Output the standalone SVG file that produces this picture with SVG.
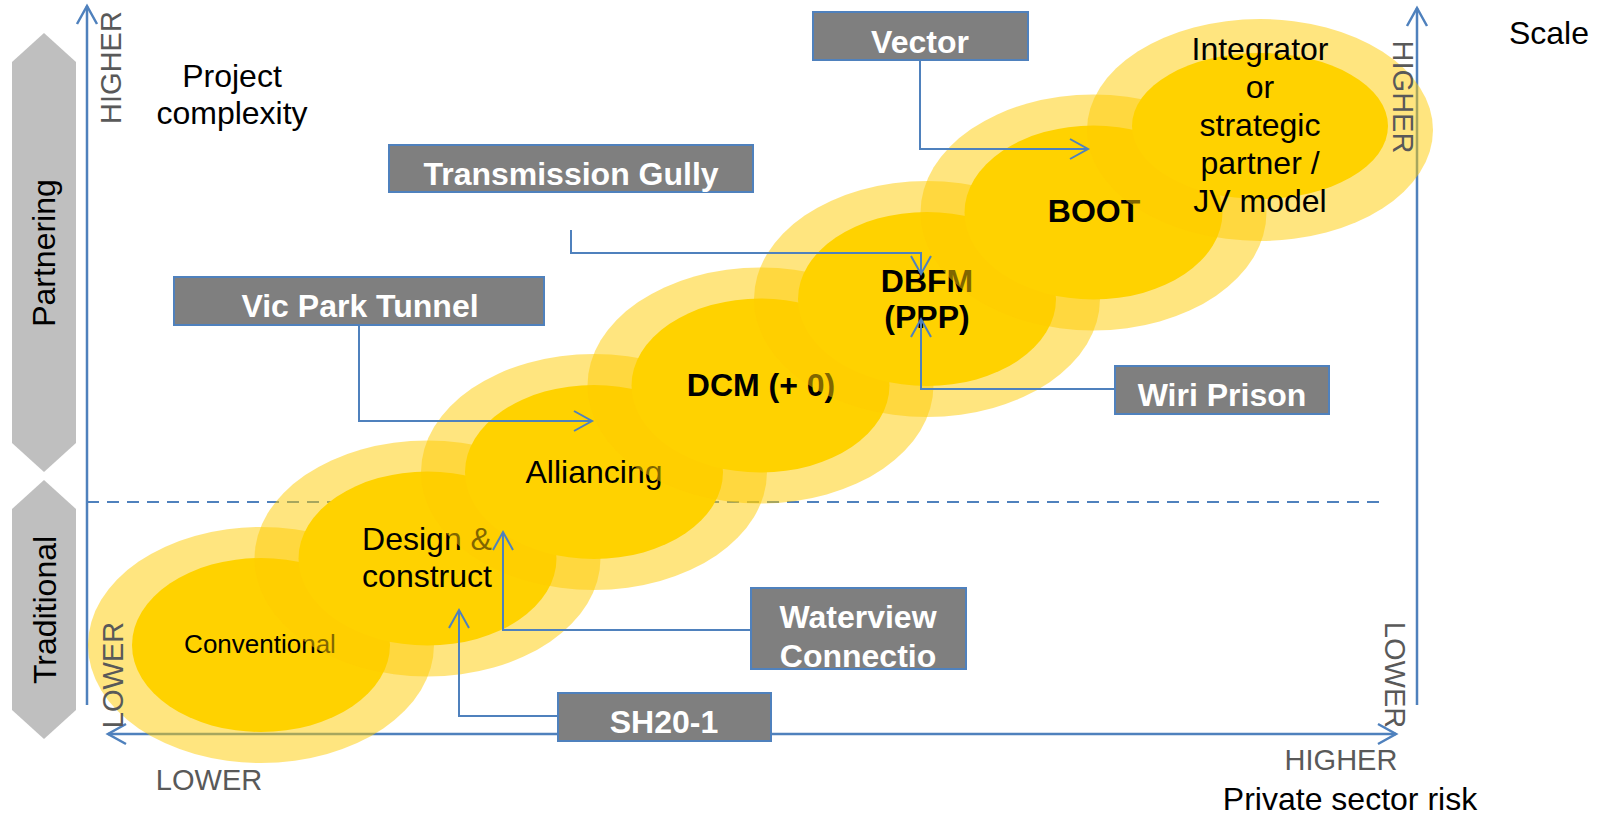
<svg xmlns="http://www.w3.org/2000/svg" width="1602" height="814" viewBox="0 0 1602 814">
<defs>
<style>
.t{font-family:"Liberation Sans",Arial,sans-serif;}
.lbl{font-size:32px;fill:#000;}
.ax{font-size:29px;fill:#595959;}
.node{font-size:32px;fill:#000;text-anchor:middle;}
.b{font-weight:bold;}
.box rect{fill:#7F7F7F;stroke:#4F81BD;stroke-width:2;}
.box text{font-size:32px;font-weight:bold;fill:#fff;text-anchor:middle;}
.outer{fill:#FFCC00;fill-opacity:0.5;}
.inner{fill:#FFD200;}
.axis{fill:none;stroke:#4F81BD;stroke-width:2.5;}
.conn path{fill:none;stroke:#4F81BD;stroke-width:2;}
.hex{fill:#BFBFBF;}
</style>
<marker id="arr" viewBox="-20 -12 24 24" markerWidth="24" markerHeight="24" refX="0" refY="0" orient="auto-start-reverse" markerUnits="userSpaceOnUse">
<path d="M-18,-10 L0,0 L-18,10" fill="none" stroke="#4F81BD" stroke-width="2.5"/>
</marker>
<marker id="arr2" viewBox="-20 -12 24 24" markerWidth="24" markerHeight="24" refX="0" refY="0" orient="auto" markerUnits="userSpaceOnUse">
<path d="M-18,-10 L0,0 L-18,10" fill="none" stroke="#4F81BD" stroke-width="2"/>
</marker>
</defs>
<rect width="1602" height="814" fill="#fff"/>

<!-- side bands -->
<g id="partnering">
<polygon class="hex" points="12,62 44,33 76,62 76,443 44,472 12,443"/>
<text class="t lbl" text-anchor="middle" transform="translate(55,253) rotate(-90)">Partnering</text>
</g>
<g id="traditional">
<polygon class="hex" points="12,509 44,480 76,509 76,710 44,739 12,710"/>
<text class="t lbl" text-anchor="middle" transform="translate(56,610) rotate(-90)">Traditional</text>
</g>

<!-- axes and divider -->
<g id="axes">
<path class="axis" d="M87,705 V6" marker-end="url(#arr)"/>
<path class="axis" d="M1417,705 V8" marker-end="url(#arr)"/>
<path class="axis" d="M108,734 H1396" marker-start="url(#arr)" marker-end="url(#arr)"/>
<path d="M87,502 H1381" fill="none" stroke="#4F81BD" stroke-width="2" stroke-dasharray="12,8"/>
</g>

<!-- ellipse chain -->
<g id="n-conventional">
<ellipse class="outer" cx="261" cy="645" rx="173" ry="118"/>
<ellipse class="inner" cx="261" cy="645" rx="129" ry="87"/>
<text class="t node" x="260" y="653" style="font-size:26px">Conventional</text>
</g>
<g id="n-design">
<ellipse class="outer" cx="427.5" cy="558.5" rx="173" ry="118"/>
<ellipse class="inner" cx="427.5" cy="558.5" rx="129" ry="87"/>
<text class="t node" x="427" y="550">Design &amp;</text>
<text class="t node" x="427" y="587">construct</text>
</g>
<g id="n-alliancing">
<ellipse class="outer" cx="594" cy="472" rx="173" ry="118"/>
<ellipse class="inner" cx="594" cy="472" rx="129" ry="87"/>
<text class="t node" x="594" y="483">Alliancing</text>
</g>
<g id="n-dcm">
<ellipse class="outer" cx="760.5" cy="385.5" rx="173" ry="118"/>
<ellipse class="inner" cx="760.5" cy="385.5" rx="129" ry="87"/>
<text class="t node b" x="761" y="396">DCM (+ 0)</text>
</g>
<g id="n-dbfm">
<ellipse class="outer" cx="927" cy="299" rx="173" ry="118"/>
<ellipse class="inner" cx="927" cy="299" rx="129" ry="87"/>
<text class="t node b" x="927" y="292">DBFM</text>
<text class="t node b" x="927" y="328">(PPP)</text>
</g>
<g id="n-boot">
<ellipse class="outer" cx="1093.5" cy="212.5" rx="173" ry="118"/>
<ellipse class="inner" cx="1093.5" cy="212.5" rx="129" ry="87"/>
<text class="t node b" x="1094" y="222">BOOT</text>
</g>
<g id="n-integrator">
<ellipse class="outer" cx="1260" cy="130" rx="173" ry="111"/>
<ellipse class="inner" cx="1260" cy="126" rx="128" ry="73"/>
<text class="t node" x="1260" y="60">Integrator</text>
<text class="t node" x="1260" y="98">or</text>
<text class="t node" x="1260" y="136">strategic</text>
<text class="t node" x="1260" y="174">partner /</text>
<text class="t node" x="1260" y="212">JV model</text>
</g>

<!-- axis labels -->
<g id="labels">
<text class="t ax" text-anchor="middle" transform="translate(121,67.5) rotate(-90)">HIGHER</text>
<text class="t ax" text-anchor="middle" transform="translate(123,675) rotate(-90)">LOWER</text>
<text class="t ax" text-anchor="middle" transform="translate(1393,97) rotate(90)">HIGHER</text>
<text class="t ax" text-anchor="middle" transform="translate(1385,675) rotate(90)">LOWER</text>
<text class="t ax" x="209" y="790" text-anchor="middle">LOWER</text>
<text class="t ax" x="1341" y="770" text-anchor="middle">HIGHER</text>
<text class="t lbl" x="1350" y="810" text-anchor="middle">Private sector risk</text>
<text class="t lbl" x="1549" y="44" text-anchor="middle">Scale</text>
<text class="t lbl" x="232" y="87" text-anchor="middle">Project</text>
<text class="t lbl" x="232" y="124" text-anchor="middle">complexity</text>
</g>

<!-- connectors -->
<g id="connectors" class="conn">
<path d="M920,60 V149 H1088" marker-end="url(#arr2)"/>
<path d="M571,230 V253 H921 V274" marker-end="url(#arr2)"/>
<path d="M359,325 V421 H592" marker-end="url(#arr2)"/>
<path d="M1115,389 H921 V319" marker-end="url(#arr2)"/>
<path d="M751,630 H503 V532" marker-end="url(#arr2)"/>
<path d="M558,716 H459 V610" marker-end="url(#arr2)"/>
</g>

<!-- project boxes -->
<g id="b-vector" class="box">
<rect x="813" y="12" width="215" height="48"/>
<text class="t" x="920" y="53">Vector</text>
</g>
<g id="b-transmission" class="box">
<rect x="389" y="145" width="364" height="47"/>
<text class="t" x="571" y="185">Transmission Gully</text>
</g>
<g id="b-vicpark" class="box">
<rect x="174" y="277" width="370" height="48"/>
<text class="t" x="360" y="317">Vic Park Tunnel</text>
</g>
<g id="b-wiri" class="box">
<rect x="1115" y="366" width="214" height="48"/>
<text class="t" x="1222" y="406">Wiri Prison</text>
</g>
<g id="b-waterview" class="box">
<rect x="751" y="588" width="215" height="81"/>
<text class="t" x="858" y="628">Waterview</text>
<text class="t" x="858" y="667">Connectio</text>
</g>
<g id="b-sh20" class="box">
<rect x="558" y="693" width="213" height="48"/>
<text class="t" x="664" y="733">SH20-1</text>
</g>
</svg>
